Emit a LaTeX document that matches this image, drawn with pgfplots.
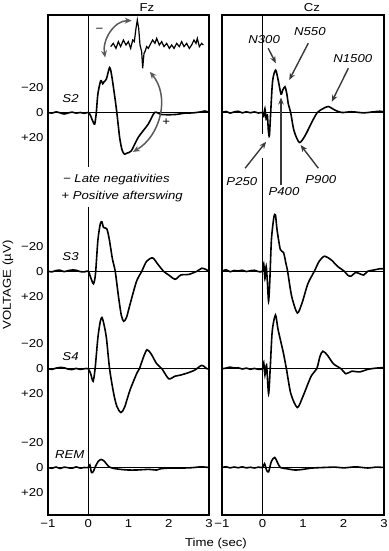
\documentclass[border=0pt]{standalone}
\usepackage{fontspec}
\setmainfont{Liberation Sans}[FakeStretch=1.15]
\usepackage{pgfplots}
\pgfplotsset{compat=1.18}
\usepackage{pgfplotstable}
\usetikzlibrary{arrows.meta}

% ---------- Fz ----------
\pgfplotstableread{
t v
-1.0 0
-0.9 0.5
-0.8 -0.5
-0.7 0.3
-0.6 1.2
-0.5 0.4
-0.4 -0.3
-0.3 0.5
-0.2 0
-0.1 0.6
0.0 0
0.05 2
0.1 6
0.16 9.3
0.2 0
0.24 -15
0.31 -25.4
0.36 -23
0.39 -24.5
0.45 -26.7
0.53 -36
0.58 -30
0.65 -14.7
0.71 0
0.78 20
0.84 30
0.90 33.3
0.96 32.5
1.07 30.7
1.24 20
1.49 9.3
1.65 0
1.8 1.5
2.0 1.8
2.2 1.5
2.4 0.5
2.6 0.3
2.8 -0.5
2.9 -1.2
3.0 0
}\FzStwo
\pgfplotstableread{
t v
-1.0 0
-0.9 0.5
-0.8 -0.6
-0.7 -0.8
-0.6 0.3
-0.5 -0.5
-0.4 -1.0
-0.3 -0.8
-0.2 0.3
-0.1 0.5
0 0
0.06 5
0.13 10
0.18 2
0.24 -25
0.30 -38
0.34 -39.5
0.38 -35
0.46 -34
0.52 -26
0.60 -10
0.67 0
0.75 20
0.82 35
0.88 40
0.95 37
1.05 25
1.2 8
1.33 0
1.45 -8
1.6 -10.7
1.72 -6
1.87 0
2.0 3
2.16 6.4
2.3 3
2.5 2.5
2.7 0
2.82 -2.4
2.92 -1.5
3.0 0
}\FzSthree
\pgfplotstableread{
t v
-1 0
-0.9 0.5
-0.8 -0.5
-0.7 -1
-0.6 -0.8
-0.5 0.3
-0.4 0.6
-0.3 -0.3
-0.2 0.5
-0.1 0
0 0
0.06 4
0.12 10
0.17 0
0.24 -25
0.30 -38
0.34 -41
0.38 -37
0.45 -25
0.53 0
0.63 19.5
0.71 30
0.81 35
0.9 31
1.04 16.8
1.21 3.4
1.27 0
1.38 -10
1.46 -15.2
1.56 -12
1.7 -4
1.83 0
2.0 8
2.15 6
2.3 5
2.5 3
2.65 1
2.82 -2.7
2.95 0
3.0 0
}\FzSfour
\pgfplotstableread{
t v
-1 0
-0.9 0.6
-0.8 -0.4
-0.7 0.8
-0.6 -0.3
-0.5 0.2
-0.4 0.6
-0.3 -0.5
-0.2 0.5
-0.1 0
0 0
0.04 -2
0.08 4
0.13 3
0.18 -1
0.25 -5
0.32 -6.4
0.4 -5
0.5 -1
0.6 0.5
0.8 1.5
1.0 2
1.2 2
1.5 1.5
1.7 2
1.8 1
2.0 0.5
2.5 0.3
2.8 -0.5
3.0 0
}\FzREM
% inset (axis units)
\pgfplotstableread{
t y
0.557 25.3
0.623 22.7
0.689 26.7
0.747 21.3
0.805 25.3
0.872 20
0.938 24
0.996 21.3
1.054 26.7
1.104 20
1.145 21.3
1.186 10.7
1.219 4
1.253 10.7
1.286 24
1.327 29.3
1.352 42.7
1.385 30.7
1.410 29.3
1.451 25.3
1.493 26.7
1.534 24
1.600 20
1.658 22.7
1.700 18.7
1.766 24
1.824 21.3
1.882 25.3
1.948 22.7
2.015 26.7
2.072 24
2.131 26.7
2.197 22.7
2.263 25.3
2.321 21.3
2.379 25.3
2.445 22.7
2.511 26.7
2.569 24
2.627 20
2.677 22.7
2.710 18.7
2.760 25.3
2.818 22.7
2.860 24
}\FzInset
% ---------- Cz ----------
\pgfplotstableread{
t v
-1 0
-0.9 -0.8
-0.8 0.5
-0.7 -0.5
-0.6 -1
-0.5 0.3
-0.4 -0.6
-0.3 0.2
-0.2 -0.5
-0.1 0.4
0 0
0.03 3
0.06 -3
0.09 5
0.12 2
0.145 14.6
0.17 18.6
0.2 1.3
0.25 -25.4
0.325 -33.9
0.39 -25.4
0.457 -14.7
0.5 -18
0.555 -20.6
0.6 -15
0.638 -6.7
0.695 0
0.778 14.6
0.91 24
1.05 18.6
1.214 8
1.354 0
1.5 -3.2
1.625 -4.8
1.79 -1.9
1.955 0
2.2 -0.6
2.5 0.3
2.7 -0.4
2.9 -1
3.0 -0.5
}\CzStwo
\pgfplotstableread{
t v
-1 0
-0.9 -1.2
-0.8 0.4
-0.7 -0.6
-0.6 -0.3
-0.5 -0.8
-0.4 0.2
-0.3 -0.4
-0.2 -0.8
-0.1 0.3
0 0
0.03 -6
0.06 6
0.09 -4
0.12 8
0.15 24
0.18 8
0.22 -25
0.28 -43
0.32 -45
0.36 -33
0.44 -17.4
0.52 -15
0.58 -6
0.62 0
0.72 20
0.86 33.4
0.98 25
1.12 10
1.28 0
1.4 -8
1.53 -12
1.7 -9
1.85 -4
2.02 0
2.1 3
2.18 4
2.3 1
2.4 2
2.5 3
2.6 0
2.75 -1
2.9 -2
3.0 -2
}\CzSthree
\pgfplotstableread{
t v
-1 0
-0.9 -0.5
-0.8 -1.3
-0.7 -0.6
-0.6 -0.8
-0.5 0.2
-0.4 -0.5
-0.3 0.4
-0.2 -0.3
-0.1 0.5
0 0
0.03 -5
0.06 5
0.1 -3
0.15 20
0.19 0
0.24 -30
0.32 -43
0.38 -32
0.45 -22
0.52 -12
0.59 0
0.7 20
0.86 31
1.0 22
1.2 6
1.34 0
1.42 -10
1.49 -14
1.6 -11
1.75 -4
1.94 0
2.06 4
2.2 2
2.4 2.5
2.6 0.5
2.8 -0.5
3.0 -1
}\CzSfour
\pgfplotstableread{
t v
-1 0
-0.9 -0.6
-0.8 0.3
-0.7 -0.4
-0.6 0.2
-0.5 -0.5
-0.4 0.3
-0.3 -0.2
-0.2 0.4
-0.1 -0.3
0 0
0.05 -3
0.1 2
0.15 3.5
0.22 -5
0.3 -8
0.37 -4
0.44 0
0.6 1
0.8 2
1.0 1.5
1.2 0.5
1.5 0
1.8 -0.3
2.0 0.3
2.3 -0.5
2.6 0.4
2.8 -0.3
3.0 0
}\CzREM

\pgfplotsset{
  eeg/.style={
    scale only axis, height=500bp,
    xmin=-1, xmax=3, ymin=0, ymax=400, y dir=reverse,
    axis line style={line width=1.9pt},
    major tick length=0pt,
    xtick={-1,0,1,2,3}, xticklabels={−1,0,1,2,3},
    tick label style={font=\fontsize{11.5}{13}\selectfont},
    xticklabel style={yshift=-1pt},
    clip=false,
  },
  trace/.style={black, line width=1.6pt, smooth, tension=0.45, no markers},
}
\tikzset{
  zline/.style={black, line width=1pt},
  lab/.style={font=\fontsize{11.5}{13}\selectfont\itshape},
  ann/.style={black!78, line width=1.4pt, -{Stealth[length=7pt,width=5.5pt]}},
}

\begin{document}
\begin{tikzpicture}
\path[use as bounding box] (0,0) rectangle (389bp,551bp);

% ----- Fz panel -----
\begin{axis}[eeg, at={(48bp,36bp)}, anchor=south west, width=161bp,
  ytick={58,78,98,185,205,225,263,283,303,342,362,382},
  yticklabels={−20,0,+20,−20,0,+20,−20,0,+20,−20,0,+20},
  yticklabel style={xshift=-1pt}]
\draw[zline] (axis cs:-1,78) -- (axis cs:3,78);
\draw[zline] (axis cs:-1,205) -- (axis cs:3,205);
\draw[zline] (axis cs:-1,283) -- (axis cs:3,283);
\draw[zline] (axis cs:-1,362) -- (axis cs:3,362);
\draw[black, line width=1.4pt] (axis cs:0,0) -- (axis cs:0,121.6);
\draw[black, line width=1.4pt] (axis cs:0,153.6) -- (axis cs:0,400);
\addplot[trace] table[x=t, y expr=\thisrow{v}+78] {\FzStwo};
\addplot[trace] table[x=t, y expr=\thisrow{v}+205] {\FzSthree};
\addplot[trace] table[x=t, y expr=\thisrow{v}+283] {\FzSfour};
\addplot[trace] table[x=t, y expr=\thisrow{v}+362] {\FzREM};
\addplot[black, line width=1.2pt, sharp plot, no markers] table[x=t, y=y] {\FzInset};
% curved arrows
\draw[black!65, line width=1.5pt, {Stealth[length=7pt,width=6pt]}-{Stealth[length=7pt,width=6pt]}]
  (axis cs:0.42,34) to[out=100, in=180] (axis cs:1.08,4.5);
\draw[black!65, line width=1.5pt, {Stealth[length=7pt,width=6pt]}-{Stealth[length=7pt,width=6pt]}]
  (axis cs:1.53,45.5) to[out=-50, in=30] (axis cs:1.11,109.5);
\node[font=\fontsize{11.5}{13}\selectfont] at (axis cs:0.28,12) {−};
\node[font=\fontsize{11.5}{13}\selectfont] at (axis cs:1.94,85.4) {+};
\node[lab, anchor=west, inner sep=0pt] at (axis cs:-0.63,132) {− Late negativities};
\node[lab, anchor=west, inner sep=0pt] at (axis cs:-0.67,145.2) {+ Positive afterswing};
\node[lab] at (axis cs:-0.44,67.2) {S2};
\node[lab] at (axis cs:-0.44,193.6) {S3};
\node[lab] at (axis cs:-0.44,273.6) {S4};
\node[lab] at (axis cs:-0.46,352) {REM};
\end{axis}

% ----- Cz panel -----
\begin{axis}[eeg, at={(222bp,36bp)}, anchor=south west, width=162bp,
  ytick=\empty]
\draw[zline] (axis cs:-1,78) -- (axis cs:3,78);
\draw[zline] (axis cs:-1,205) -- (axis cs:3,205);
\draw[zline] (axis cs:-1,283) -- (axis cs:3,283);
\draw[zline] (axis cs:-1,362) -- (axis cs:3,362);
\draw[black, line width=1.4pt] (axis cs:0,0) -- (axis cs:0,95);
\draw[black, line width=1.4pt] (axis cs:0,114) -- (axis cs:0,400);
\addplot[trace] table[x=t, y expr=\thisrow{v}+78] {\CzStwo};
\addplot[trace] table[x=t, y expr=\thisrow{v}+205] {\CzSthree};
\addplot[trace] table[x=t, y expr=\thisrow{v}+283] {\CzSfour};
\addplot[trace] table[x=t, y expr=\thisrow{v}+362] {\CzREM};
\draw[ann] (axis cs:0.14,26.6) -- (axis cs:0.33,38.6);
\draw[ann] (axis cs:1.13,22.6) -- (axis cs:0.66,52);
\draw[ann] (axis cs:2.12,42.6) -- (axis cs:1.71,69.4);
\draw[ann] (axis cs:-0.43,122.6) -- (axis cs:0.09,101.4);
\draw[ann] (axis cs:0.457,136) -- (axis cs:0.457,66);
\draw[ann] (axis cs:1.38,122.6) -- (axis cs:0.94,104);
\node[lab] at (axis cs:0.04,20) {N300};
\node[lab] at (axis cs:1.17,13.6) {N550};
\node[lab] at (axis cs:2.23,35.2) {N1500};
\node[lab] at (axis cs:-0.51,133.6) {P250};
\node[lab] at (axis cs:0.53,141.6) {P400};
\node[lab] at (axis cs:1.44,132) {P900};
\end{axis}

\node[font=\fontsize{11.5}{13}\selectfont] at (147bp,543bp) {Fz};
\node[font=\fontsize{11.5}{13}\selectfont] at (312bp,543bp) {Cz};
\node[font=\fontsize{11.5}{13}\selectfont, rotate=90] at (8bp,266bp) {VOLTAGE (µV)};
\node[font=\fontsize{11.5}{13}\selectfont] at (216bp,7bp) {Time (sec)};
\end{tikzpicture}
\end{document}
